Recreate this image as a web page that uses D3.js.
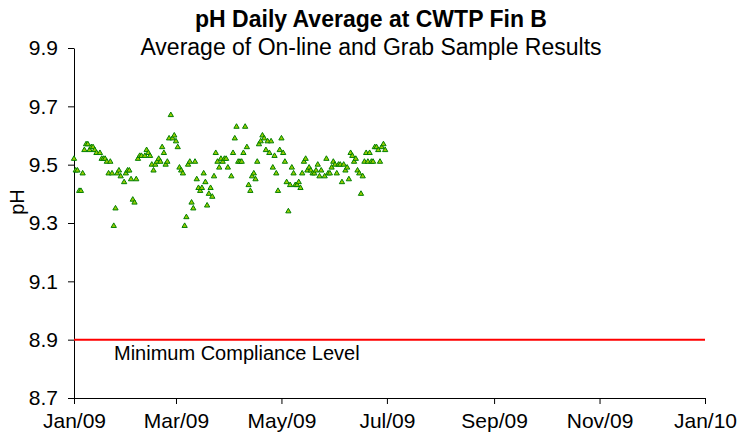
<!DOCTYPE html>
<html>
<head>
<meta charset="utf-8">
<script src="https://cdn.jsdelivr.net/npm/d3@7"></script>
<style>
  body { margin: 0; background: #fff; }
  svg { font-family: "Liberation Sans", Arial, sans-serif; display: block; }
</style>
</head>
<body>
<div id="chart"></div>
<script>
const TITLE = "pH Daily Average at CWTP Fin B";
const SUBTITLE = "Average of On-line and Grab Sample Results";
const Y_LABEL = "pH";
const LIMIT_LABEL = "Minimum Compliance Level";
const MIN_COMPLIANCE = 8.9;

// day offsets counted from START_DATE, one reading per day
const START_DATE = "2009-01-01";
const dayOffsets = [
  0, 1, 2, 3, 4, 5, 6, 7, 8, 9, 10, 11, 12, 13, 15, 16, 17, 18, 19, 20,
  21, 22, 23, 24, 25, 26, 27, 29, 30, 31, 32, 33, 34, 35, 36, 37, 38, 39, 41, 42,
  43, 44, 45, 46, 47, 48, 49, 50, 51, 52, 53, 54, 55, 56, 57, 58, 59, 60, 61, 62,
  63, 64, 65, 66, 67, 68, 69, 70, 71, 72, 73, 74, 75, 76, 77, 78, 79, 80, 81, 82,
  83, 84, 85, 86, 87, 88, 89, 91, 92, 93, 94, 95, 96, 97, 98, 99, 100, 101, 102, 103,
  104, 105, 106, 107, 108, 109, 110, 111, 112, 113, 114, 115, 116, 117, 118, 119, 120, 121, 122, 123,
  124, 125, 126, 127, 128, 129, 130, 131, 132, 133, 134, 135, 136, 137, 138, 139, 140, 141, 142, 143,
  145, 146, 147, 148, 149, 150, 151, 152, 153, 154, 155, 156, 157, 158, 159, 160, 161, 162, 163, 164,
  165, 166, 167, 168, 169, 170, 171, 172, 173, 174, 175, 176, 177, 178, 179, 180
];
const phValues = [
  9.52, 9.48, 9.48, 9.41, 9.41, 9.47, 9.55, 9.57, 9.57, 9.55, 9.56, 9.56, 9.55, 9.54, 9.54, 9.52, 9.52, 9.52, 9.51, 9.47,
  9.51, 9.47, 9.29, 9.35, 9.47, 9.48, 9.46, 9.44, 9.47, 9.48, 9.48, 9.45, 9.38, 9.37, 9.45, 9.52, 9.53, 9.53, 9.53, 9.55,
  9.54, 9.53, 9.50, 9.48, 9.50, 9.51, 9.52, 9.51, 9.56, 9.54, 9.50, 9.51, 9.59, 9.67, 9.59, 9.60, 9.58, 9.56, 9.49, 9.48,
  9.47, 9.29, 9.32, 9.50, 9.51, 9.37, 9.35, 9.51, 9.45, 9.42, 9.41, 9.42, 9.47, 9.44, 9.36, 9.40, 9.42, 9.39, 9.46, 9.54,
  9.51, 9.49, 9.52, 9.51, 9.52, 9.52, 9.49, 9.46, 9.54, 9.59, 9.63, 9.51, 9.51, 9.51, 9.54, 9.63, 9.56, 9.43, 9.41, 9.46,
  9.47, 9.45, 9.51, 9.57, 9.58, 9.60, 9.59, 9.55, 9.58, 9.54, 9.58, 9.49, 9.53, 9.47, 9.41, 9.55, 9.59, 9.54, 9.51, 9.44,
  9.34, 9.43, 9.49, 9.47, 9.43, 9.43, 9.44, 9.42, 9.47, 9.51, 9.52, 9.48, 9.49, 9.48, 9.47, 9.47, 9.48, 9.50, 9.46, 9.48,
  9.46, 9.52, 9.47, 9.47, 9.49, 9.51, 9.50, 9.47, 9.50, 9.50, 9.44, 9.50, 9.48, 9.49, 9.45, 9.54, 9.53, 9.51, 9.52, 9.48,
  9.47, 9.40, 9.46, 9.51, 9.54, 9.51, 9.54, 9.51, 9.51, 9.56, 9.56, 9.55, 9.51, 9.56, 9.57, 9.55
];

const yTicks = [8.7, 8.9, 9.1, 9.3, 9.5, 9.7, 9.9];
const xTickDates = ["2009-01-01", "2009-03-01", "2009-05-01", "2009-07-01", "2009-09-01", "2009-11-01", "2010-01-01"];

const width = 738, height = 434;
const margin = {top: 48, right: 33, bottom: 36, left: 74};

const parse = d3.timeParse("%Y-%m-%d");
const start = parse(START_DATE);
const points = dayOffsets.map((d, i) => ({date: d3.timeDay.offset(start, d), ph: phValues[i]}));
const tickDates = xTickDates.map(parse);

const x = d3.scaleTime()
  .domain([tickDates[0], tickDates[tickDates.length - 1]])
  .range([margin.left, width - margin.right]);

const y = d3.scaleLinear()
  .domain([yTicks[0], yTicks[yTicks.length - 1]])
  .range([height - margin.bottom, margin.top]);

const svg = d3.select("#chart").append("svg")
  .attr("width", width)
  .attr("height", height);

// titles
svg.append("text")
  .attr("x", 371)
  .attr("y", 27)
  .attr("text-anchor", "middle")
  .attr("font-size", 23)
  .attr("font-weight", "bold")
  .text(TITLE);

svg.append("text")
  .attr("x", 371)
  .attr("y", 55)
  .attr("text-anchor", "middle")
  .attr("font-size", 23)
  .text(SUBTITLE);

// axes
const yAxis = svg.append("g")
  .attr("transform", `translate(${margin.left},0)`)
  .call(d3.axisLeft(y)
    .tickValues(yTicks)
    .tickFormat(d3.format(".1f"))
    .tickSize(6)
    .tickSizeOuter(0)
    .tickPadding(10));

const xAxis = svg.append("g")
  .attr("transform", `translate(0,${height - margin.bottom})`)
  .call(d3.axisBottom(x)
    .tickValues(tickDates)
    .tickFormat(d3.timeFormat("%b/%y"))
    .tickSize(6)
    .tickSizeOuter(0)
    .tickPadding(9));

[yAxis, xAxis].forEach(g => {
  g.attr("font-size", 21).attr("font-family", null);
  g.selectAll("text").attr("fill", "#000");
  g.selectAll("line, path").attr("stroke", "#000");
});

svg.append("text")
  .attr("transform", "translate(24,202) rotate(-90)")
  .attr("text-anchor", "middle")
  .attr("font-size", 20)
  .text(Y_LABEL);

// compliance limit
svg.append("line")
  .attr("x1", x.range()[0])
  .attr("x2", x.range()[1])
  .attr("y1", y(MIN_COMPLIANCE))
  .attr("y2", y(MIN_COMPLIANCE))
  .attr("stroke", "#ff0000")
  .attr("stroke-width", 2);

svg.append("text")
  .attr("x", 114)
  .attr("y", 360)
  .attr("font-size", 20)
  .text(LIMIT_LABEL);

// daily readings
svg.append("g")
  .selectAll("path")
  .data(points)
  .join("path")
    .attr("transform", d => `translate(${x(d.date)},${y(d.ph)})`)
    .attr("d", d3.symbol(d3.symbolTriangle, 12))
    .attr("fill", "#99cc00")
    .attr("stroke", "#008000")
    .attr("stroke-width", 1);
</script>
</body>
</html>
